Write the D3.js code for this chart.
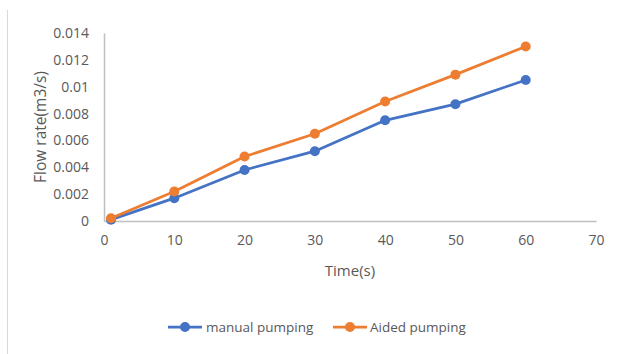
<!DOCTYPE html>
<html>
<head>
<meta charset="utf-8">
<script src="https://cdn.jsdelivr.net/npm/d3@7"></script>
<style>
  html, body { margin: 0; padding: 0; background: #fff; }
  svg { display: block; font-family: "Open Sans", "Liberation Sans", sans-serif; }
</style>
</head>
<body>
<svg id="chart" width="617" height="354"></svg>
<script>
// Flow rate measured over time for two pumping methods
const times = [1, 10, 20, 30, 40, 50, 60];
const manualPumping = [0.0001, 0.0017, 0.0038, 0.0052, 0.0075, 0.0087, 0.0105];
const aidedPumping = [0.0002, 0.0022, 0.0048, 0.0065, 0.0089, 0.0109, 0.0130];
const xTicks = [0, 10, 20, 30, 40, 50, 60, 70];
const yTicks = [0, 0.002, 0.004, 0.006, 0.008, 0.01, 0.012, 0.014];
const seriesNames = ["manual pumping", "Aided pumping"];
const seriesColors = ["#4472C4", "#ED7D31"];

const svg = d3.select("#chart");
const textColor = "#595959";
const axisColor = "#bfbfbf";

// frame edge on the left
svg.append("line")
  .attr("x1", 7.5).attr("x2", 7.5).attr("y1", 10).attr("y2", 354)
  .attr("stroke", "#d9d9d9").attr("stroke-width", 1);

const x = d3.scaleLinear().domain([0, 70]).range([104, 596]);
const y = d3.scaleLinear().domain([0, 0.014]).range([221, 33]);

// y axis
const yAxis = svg.append("g")
  .attr("transform", `translate(${x(0)},0)`)
  .call(d3.axisLeft(y).tickValues(yTicks).tickSize(0).tickPadding(15)
    .tickFormat(d => d === 0 ? "0" : String(+d.toFixed(3))));
yAxis.select(".domain").attr("stroke", axisColor).attr("stroke-width", 1.5);
yAxis.selectAll("text").attr("fill", textColor).attr("font-size", 14)
  .attr("font-family", "Open Sans, sans-serif");

// x axis
const xAxis = svg.append("g")
  .attr("transform", `translate(0,${y(0)})`)
  .call(d3.axisBottom(x).tickValues(xTicks).tickSize(0).tickPadding(14));
xAxis.select(".domain").attr("stroke", axisColor).attr("stroke-width", 1.5);
xAxis.selectAll("text").attr("fill", textColor).attr("font-size", 14)
  .attr("font-family", "Open Sans, sans-serif");

// axis titles
svg.append("text")
  .attr("x", (x(0) + x(70)) / 2).attr("y", 276)
  .attr("text-anchor", "middle").attr("fill", textColor).attr("font-size", 15)
  .text("Time(s)");
svg.append("text")
  .attr("transform", `translate(46,${(y(0) + y(0.014)) / 2}) rotate(-90)`)
  .attr("text-anchor", "middle").attr("fill", textColor).attr("font-size", 15.5)
  .text("Flow rate(m3/s)");

// series lines with markers
const series = [manualPumping, aidedPumping];
const line = d3.line().x((d, i) => x(times[i])).y(d => y(d));
series.forEach((vals, s) => {
  const g = svg.append("g");
  g.append("path").datum(vals)
    .attr("d", line).attr("fill", "none")
    .attr("stroke", seriesColors[s]).attr("stroke-width", 2.75)
    .attr("stroke-linejoin", "round");
  g.selectAll("circle").data(vals).join("circle")
    .attr("cx", (d, i) => x(times[i])).attr("cy", d => y(d))
    .attr("r", 5).attr("fill", seriesColors[s]);
});

// legend
const legendItems = [
  { x0: 168, tx: 206 },
  { x0: 333, tx: 370 }
];
const ly = 327;
legendItems.forEach((it, s) => {
  svg.append("line")
    .attr("x1", it.x0).attr("x2", it.x0 + 34).attr("y1", ly).attr("y2", ly)
    .attr("stroke", seriesColors[s]).attr("stroke-width", 2.75);
  svg.append("circle").attr("cx", it.x0 + 17).attr("cy", ly).attr("r", 5)
    .attr("fill", seriesColors[s]);
  svg.append("text").attr("x", it.tx).attr("y", ly).attr("dy", "0.35em")
    .attr("fill", textColor).attr("font-size", 13.5).text(seriesNames[s]);
});
</script>
</body>
</html>
